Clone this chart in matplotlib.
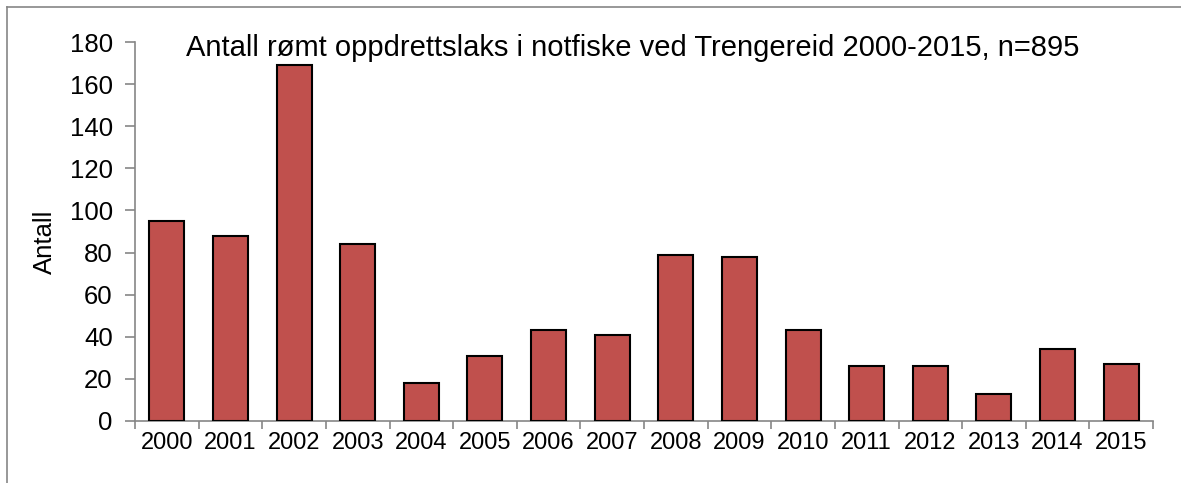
import numpy as np
import matplotlib.pyplot as plt
from matplotlib.lines import Line2D

plt.rcParams['font.family'] = ['Liberation Sans', 'DejaVu Sans']

years = ['2000', '2001', '2002', '2003', '2004', '2005', '2006', '2007',
         '2008', '2009', '2010', '2011', '2012', '2013', '2014', '2015']
antall = [95, 88, 169, 84, 18, 31, 43, 41, 79, 78, 43, 26, 26, 13, 34, 27]
title = 'Antall rømt oppdrettslaks i notfiske ved Trengereid 2000-2015, n=895'

fig = plt.figure(figsize=(11.81, 4.83), dpi=100)
ax = fig.add_axes([135 / 1181, 1 - 421 / 483, (1153 - 135) / 1181, (421 - 42) / 483])

x = np.arange(len(years))
ax.bar(x, antall, width=0.55, color='#c0504d', edgecolor='black', linewidth=1.5, zorder=3)

ax.set_xlim(-0.5, len(years) - 0.5)
ax.set_ylim(0, 180)
ax.set_yticks(np.arange(0, 181, 20))
ax.set_xticks(x)
ax.set_xticklabels(years)
ax.set_xticks(np.arange(-0.5, len(years), 1), minor=True)

grey = '#868686'
for s in ['top', 'right']:
    ax.spines[s].set_visible(False)
for s in ['left', 'bottom']:
    ax.spines[s].set_color(grey)
    ax.spines[s].set_linewidth(1.2)

ax.tick_params(axis='y', direction='out', length=7, width=1.2, color=grey,
               labelsize=18.5, pad=9)
ax.tick_params(axis='x', which='major', length=0, labelsize=17, pad=8)
ax.tick_params(axis='x', which='minor', direction='out', length=6, width=1.2, color=grey)

ax.set_ylabel('Antall', fontsize=18.5)
ax.yaxis.set_label_coords(45 / 1181, 0.5, transform=fig.transFigure)
ax.yaxis.label.set_va('center')
fig.text((180 + 1085) / 2 / 1181, 1 - 48 / 483, title, ha='center', va='center',
         fontsize=21)

# outer chart border (top and left edges visible)
fig.add_artist(Line2D([7 / 1181, 7 / 1181], [0, 1 - 7 / 483], transform=fig.transFigure,
                      color=grey, linewidth=1.2))
fig.add_artist(Line2D([7 / 1181, 1], [1 - 7 / 483, 1 - 7 / 483], transform=fig.transFigure,
                      color=grey, linewidth=1.2))

fig.savefig('out.png', dpi=100)
